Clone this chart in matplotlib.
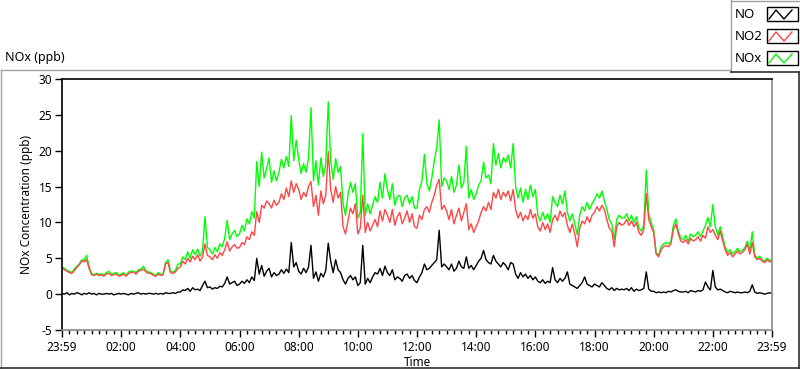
import numpy as np
import matplotlib
matplotlib.use('Agg')
import matplotlib.pyplot as plt
from matplotlib.lines import Line2D
from matplotlib.patches import Rectangle

plt.rcParams['font.family'] = ['Noto Sans', 'DejaVu Sans']
plt.rcParams['font.size'] = 8.5
plt.rcParams['axes.unicode_minus'] = False

# 5-minute readings, 00:00 .. 24:00 (one row per hour)
no_ppb = [
    0.1, 0.0, 0.2, -0.1, 0.1, 0.0, 0.2, 0.1, -0.1, 0.1, 0.0, 0.2,
    0.0, 0.1, -0.1, 0.1, 0.0, 0.0, 0.1, 0.0, 0.1, -0.1, 0.0, 0.1,
    0.0, 0.1, 0.0, -0.1, 0.1, 0.0, 0.1, 0.2, 0.0, 0.1, 0.0, 0.1,
    0.1, 0.0, 0.1, 0.0, 0.1, 0.0, 0.2, 0.1, 0.1, 0.2, 0.1, 0.3,
    0.3, 0.6, 0.5, 0.8, 0.4, 0.9, 0.6, 0.7, 0.5, 1.2, 1.8, 0.9,
    1.0, 0.7, 0.9, 0.8, 1.1, 1.0, 1.5, 2.4, 1.4, 1.6, 1.8, 1.2,
    1.4, 1.8, 1.5, 2.0, 1.6, 2.4, 1.9, 5.0, 2.8, 4.0, 2.5, 3.2,
    3.6, 2.4, 3.0, 2.6, 2.8, 3.4, 2.9, 3.5, 3.0, 7.2, 3.8, 4.4,
    3.2, 2.8, 3.6, 3.0, 3.8, 6.8, 2.2, 3.1, 1.8, 2.9, 2.4, 3.3,
    7.1, 4.6, 3.0, 4.8, 3.4, 3.0, 2.0, 1.4, 2.2, 2.6, 2.0, 2.4,
    1.2, 1.6, 6.8, 1.4, 2.2, 1.6, 2.4, 3.0, 2.8, 3.6, 2.6, 3.9,
    3.0, 2.6, 3.4, 2.0, 2.4, 2.2, 1.8, 2.6, 2.8, 2.2, 2.6, 1.9,
    1.6, 2.4, 3.0, 4.2, 3.4, 3.6, 4.0, 4.4, 4.8, 8.9, 3.8, 4.2,
    3.8, 3.4, 4.2, 3.2, 3.6, 4.6, 3.8, 3.6, 5.2, 3.6, 4.0, 3.4,
    4.0, 4.6, 5.0, 6.1, 4.8, 4.4, 4.2, 5.4, 4.6, 4.2, 3.8, 4.4,
    4.0, 3.4, 4.4, 4.2, 2.8, 2.2, 3.0, 2.4, 2.8, 2.2, 2.6, 2.0,
    2.4, 1.8, 1.6, 2.0, 1.5, 1.8, 1.6, 3.7, 2.0, 1.6, 2.2, 1.8,
    2.2, 3.1, 1.4, 1.2, 1.0, 0.8, 1.2, 1.6, 2.4, 1.4, 1.2, 1.0,
    1.4, 1.2, 1.0, 1.6, 1.2, 0.8, 0.6, 0.9, 0.5, 0.8, 0.6, 0.7,
    0.6, 0.8, 0.5, 0.9, 0.4, 0.7, 0.5, 0.6, 0.8, 3.1, 0.7, 0.4,
    0.4, 0.2, 0.3, 0.2, 0.3, 0.2, 0.4, 0.3, 0.5, 0.6, 0.4, 0.3,
    0.3, 0.4, 0.2, 0.5, 0.4, 0.3, 0.5, 0.4, 0.6, 1.7, 1.0, 0.6,
    3.3, 1.0, 0.6, 0.7, 0.5, 0.3, 0.2, 0.4, 0.3, 0.2, 0.3, 0.2,
    0.2, 0.3, 0.2, 0.4, 1.3, 0.3, 0.1, 0.2, 0.1, 0.0, 0.1, 0.2,
    0.1,
]

no2_ppb = [
    3.6, 3.4, 3.2, 3.0, 2.9, 3.3, 3.7, 4.1, 4.6, 4.5, 4.8, 3.6,
    2.7, 2.6, 2.8, 2.6, 2.7, 2.5, 2.8, 2.9, 2.6, 2.7, 2.8, 2.5,
    2.6, 2.8, 2.5, 2.9, 3.0, 3.1, 2.8, 3.2, 3.3, 3.5, 3.1, 2.9,
    2.9, 2.6, 2.5, 2.8, 2.6, 2.7, 4.2, 4.4, 3.0, 2.9, 3.1, 3.6,
    3.8, 4.6, 4.2, 5.0, 4.5, 5.3, 4.8, 5.5, 4.6, 5.2, 7.0, 5.4,
    5.2, 4.8, 5.5, 5.0, 5.8, 5.4, 6.2, 7.3, 6.0, 6.6, 6.9, 6.4,
    6.5, 7.2, 6.9, 8.0, 7.6, 8.7, 8.2, 11.5, 10.0, 12.4, 12.0, 13.0,
    12.6, 12.0, 13.1, 12.4, 12.8, 14.0, 13.2, 14.8, 13.6, 15.8, 14.2, 15.4,
    14.6, 13.2, 14.2, 13.6, 15.0, 15.7, 12.2, 13.8, 11.0, 14.4, 12.6, 13.8,
    19.9, 14.6, 12.8, 15.0, 13.4, 14.2, 9.4, 8.4, 10.2, 12.0, 11.2, 12.6,
    8.4, 9.2, 13.8, 8.6, 10.0, 8.8, 9.6, 10.4, 9.4, 11.6, 10.2, 11.8,
    11.0, 10.0, 11.8, 9.6, 10.8, 11.4, 9.8, 10.6, 11.6, 10.0, 11.2, 9.4,
    9.2, 11.0, 10.4, 11.8, 12.2, 11.4, 12.8, 13.8, 15.2, 16.0, 11.8, 12.4,
    11.6, 10.4, 11.8, 9.8, 11.0, 12.0, 10.2, 11.4, 12.6, 9.0, 9.8, 8.6,
    9.4, 10.2, 11.4, 12.2, 11.6, 12.8, 11.8, 14.2, 13.4, 14.6, 13.2, 14.2,
    13.6, 14.4, 13.0, 14.6, 11.8, 10.6, 11.4, 10.2, 11.0, 10.4, 11.8, 10.6,
    11.2, 9.4, 8.8, 10.0, 9.0, 9.8, 8.6, 10.4, 11.0, 10.2, 11.6, 10.8,
    11.4, 9.6, 8.6, 9.8, 8.4, 6.6, 9.2, 10.2, 9.8, 10.8, 10.0, 11.0,
    11.4, 12.2, 11.6, 12.4, 11.8, 10.4, 9.2, 8.8, 6.6, 9.4, 10.0, 9.6,
    9.8, 10.4, 9.6, 10.2, 9.4, 10.0, 8.6, 8.2, 9.0, 14.0, 10.4, 9.4,
    8.6, 5.6, 5.2, 6.2, 6.6, 6.8, 6.6, 7.0, 9.0, 9.8, 8.4, 7.4,
    7.2, 7.6, 7.0, 7.8, 7.4, 7.6, 8.0, 7.4, 8.2, 7.8, 9.4, 8.6,
    9.0, 8.2, 7.6, 8.8, 7.4, 6.2, 5.4, 5.8, 5.2, 5.6, 6.0, 5.6,
    5.8, 6.2, 7.0, 5.6, 7.2, 5.2, 4.8, 5.0, 4.6, 4.4, 4.8, 4.5,
    4.6,
]

nox_ppb = [
    3.8, 3.6, 3.3, 3.2, 3.0, 3.5, 3.9, 4.2, 4.8, 4.7, 5.4, 3.8,
    2.9, 2.7, 2.9, 2.8, 2.8, 2.7, 3.0, 3.2, 2.8, 2.9, 3.0, 2.7,
    2.8, 3.0, 2.6, 3.1, 3.2, 3.2, 3.0, 3.4, 3.5, 3.9, 3.3, 3.1,
    3.0, 2.8, 2.6, 3.0, 2.8, 2.8, 4.4, 4.8, 3.2, 3.1, 3.3, 4.2,
    4.2, 5.2, 4.8, 5.9, 5.0, 6.2, 5.5, 6.3, 5.3, 6.0, 10.8, 6.5,
    6.2, 5.6, 6.5, 5.9, 7.0, 6.6, 7.8, 10.3, 7.6, 8.4, 8.9, 8.0,
    8.4, 9.6, 8.8, 10.5, 9.8, 11.5, 10.6, 18.5, 15.0, 19.8, 16.2, 17.5,
    19.0, 15.6, 17.2, 15.8, 17.0, 18.8, 17.6, 19.2, 17.8, 24.9, 18.6, 21.5,
    18.8, 16.8, 18.2, 17.0, 19.0, 26.0, 15.8, 18.6, 15.2, 19.0, 16.4, 18.2,
    26.8, 18.6, 16.0, 18.9, 17.0, 17.8, 12.6, 11.0, 13.8, 15.6, 14.2, 15.4,
    10.6, 11.4, 22.4, 11.0, 12.6, 11.2, 12.4, 13.6, 12.8, 15.6, 13.4, 16.8,
    14.6, 13.2, 15.4, 12.4, 13.6, 13.8, 12.2, 13.4, 13.8, 12.6, 13.6, 12.0,
    12.0, 14.6, 15.8, 19.5, 15.4, 14.4, 16.2, 18.6, 20.4, 24.3, 15.0, 16.2,
    15.8, 14.6, 16.4, 14.2, 15.2, 18.0, 14.8, 15.6, 20.6, 13.4, 14.6, 13.2,
    14.0, 15.2, 15.8, 18.4, 16.2, 16.6, 15.4, 21.0, 18.0, 19.6, 17.6, 19.0,
    18.4, 19.4, 17.6, 21.0, 15.0, 13.4, 14.8, 12.8, 14.6, 13.2, 15.2, 13.6,
    14.6, 11.0, 10.2, 11.4, 10.4, 11.2, 10.0, 13.6, 12.8, 12.2, 13.8, 12.6,
    14.4, 11.4, 10.2, 11.2, 9.8, 8.3, 11.0, 12.2, 11.6, 12.8, 11.8, 12.6,
    13.2, 14.0, 13.4, 14.4, 13.0, 11.8, 10.4, 9.8, 7.6, 10.4, 11.0, 10.6,
    10.6, 11.2, 10.2, 11.0, 10.0, 10.8, 9.2, 8.8, 9.6, 17.3, 11.2, 10.0,
    9.0, 5.8, 5.4, 6.6, 7.0, 7.2, 7.0, 7.4, 9.6, 10.5, 8.8, 7.8,
    7.6, 8.2, 7.4, 8.4, 8.0, 8.2, 8.7, 8.0, 8.8, 9.6, 10.7, 9.4,
    12.5, 9.4, 8.2, 9.4, 8.0, 6.6, 5.8, 6.2, 5.6, 5.9, 6.4, 5.9,
    6.1, 6.5, 7.4, 6.0, 8.7, 5.5, 5.0, 5.3, 4.8, 4.6, 5.0, 4.7,
    4.8,
]

tick_labels = ['23:59', '02:00', '04:00', '06:00', '08:00', '10:00', '12:00',
               '14:00', '16:00', '18:00', '20:00', '22:00', '23:59']

hours = np.arange(len(no_ppb)) * 5 / 60.0

fig = plt.figure(figsize=(8, 3.69), dpi=100)
ax = fig.add_axes([62/800, 1 - 330/369, 710/800, 251/369])

ax.plot(hours, nox_ppb, color='#00ff00', lw=1.0)
ax.plot(hours, no2_ppb, color='#ff4545', lw=1.0)
ax.plot(hours, no_ppb, color='black', lw=1.0)

ax.set_xlim(0, 24)
ax.set_ylim(-5, 30)
ax.set_yticks(np.arange(-5, 31, 5))
ax.set_xticks(np.arange(0, 25, 2))
ax.set_xticklabels(tick_labels)
ax.set_xticks(np.arange(0, 24.01, 0.25), minor=True)
ax.tick_params(axis='x', which='major', length=5, width=1, direction='out', pad=3)
ax.tick_params(axis='x', which='minor', length=3, width=1, direction='out')
ax.tick_params(axis='y', length=5, width=1, direction='out', pad=2)
ax.set_xlabel('Time', labelpad=1)
ax.set_ylabel('NOx Concentration (ppb)', labelpad=4)

ax.spines['top'].set_color('black')
ax.spines['left'].set_color('black')
ax.spines['right'].set_color('#8a8a8a')
ax.spines['bottom'].set_color('#8a8a8a')
for s in ax.spines.values():
    s.set_linewidth(1.2)

# outer panel frame
W, H = 800.0, 369.0
def fx(px):
    return px / W
def fy(py):
    return 1 - py / H

fig.add_artist(Line2D([fx(1), fx(730)], [fy(69.5), fy(69.5)], color='#a0a0a0', lw=1))
fig.add_artist(Line2D([fx(0.5), fx(0.5)], [fy(69.5), fy(368)], color='#a0a0a0', lw=1))
fig.add_artist(Line2D([fx(0), fx(800)], [fy(368), fy(368)], color='#303030', lw=1.2))
fig.add_artist(Line2D([fx(799), fx(799)], [fy(72), fy(368)], color='#303030', lw=1.2))

fig.text(fx(5), fy(58), 'NOx (ppb)', ha='left', va='center', fontsize=9)

# legend panel
fig.add_artist(Line2D([fx(730.5), fx(730.5)], [fy(0), fy(72)], color='#a0a0a0', lw=1))
fig.add_artist(Line2D([fx(730.5), fx(800)], [fy(72), fy(72)], color='#303030', lw=1.2))
fig.add_artist(Line2D([fx(730.5), fx(800)], [fy(0.5), fy(0.5)], color='#a0a0a0', lw=1))
legend_names = ['NO', 'NO2', 'NOx']
legend_colors = ['black', '#ff4545', '#00ff00']
for i, (name, col) in enumerate(zip(legend_names, legend_colors)):
    top = 7 + i * 22
    fig.text(fx(735), fy(top + 7), name, ha='left', va='center', fontsize=9.5)
    fig.add_artist(Rectangle((fx(766.5), fy(top + 14)), 31/W, 14/H,
                             fill=False, edgecolor='black', lw=1))
    zx = [769, 776, 784, 792]
    zy = [top + 12, top + 3, top + 12, top + 3]
    fig.add_artist(Line2D([fx(v) for v in zx], [fy(v) for v in zy], color=col, lw=1))

fig.savefig('out.png', dpi=100)
